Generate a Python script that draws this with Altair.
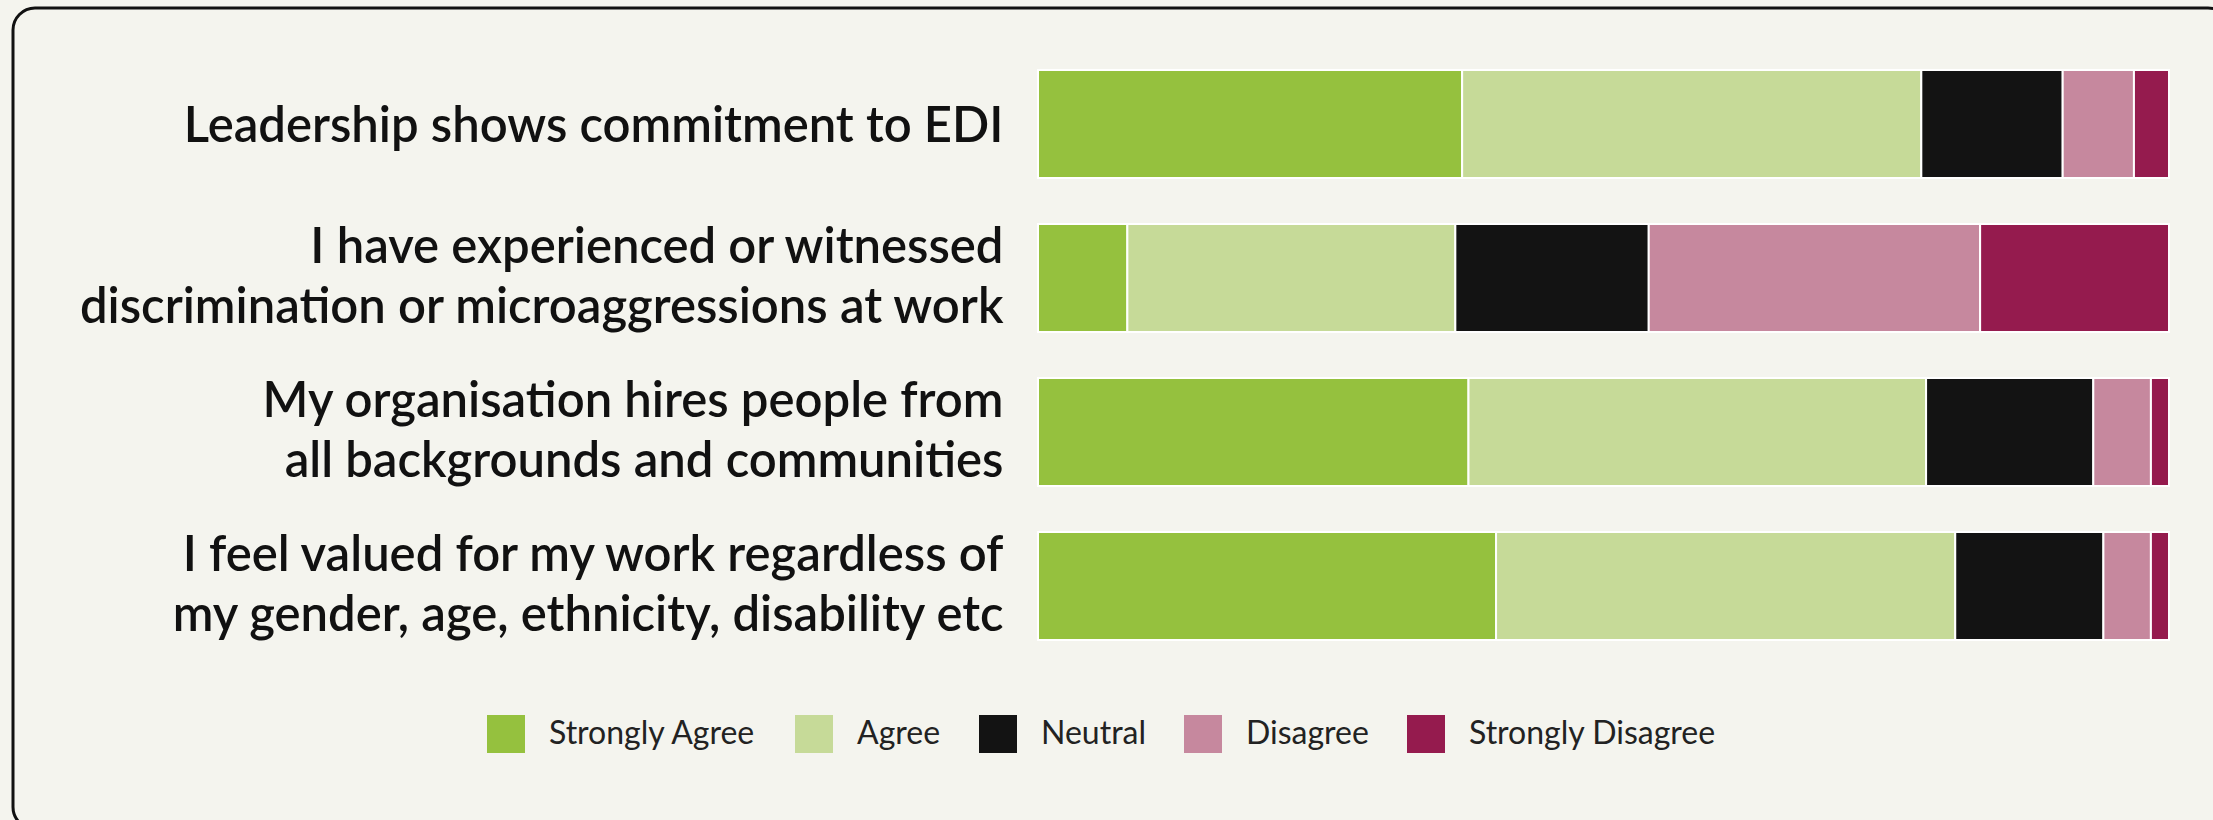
import altair as alt
import pandas as pd

questions = [
    "Leadership shows commitment to EDI",
    "I have experienced or witnessed |discrimination or microaggressions at work",
    "My organisation hires people from|all backgrounds and communities",
    "I feel valued for my work regardless of|my gender, age, ethnicity, disability etc",
]
responses = ["Strongly Agree", "Agree", "Neutral", "Disagree", "Strongly Disagree"]
colors = ["#95c13e", "#c6da98", "#131313", "#c6889e", "#951b4e"]

strongly_agree = [37.5, 7.9, 38.1, 40.5]
agree = [40.6, 29.0, 40.5, 40.6]
neutral = [12.5, 17.1, 14.8, 13.1]
disagree = [6.3, 29.3, 5.1, 4.2]
strongly_disagree = [3.1, 16.7, 1.6, 1.6]

series = [strongly_agree, agree, neutral, disagree, strongly_disagree]
rows = []
for ri, (resp, vals) in enumerate(zip(responses, series)):
    for q, v in zip(questions, vals):
        rows.append({"question": q, "response": resp, "value": v, "order": ri})
df = pd.DataFrame(rows)

bars = alt.Chart(df).mark_bar(stroke="#ffffff", strokeWidth=2).encode(
    y=alt.Y(
        "question:N",
        sort=questions,
        scale=alt.Scale(paddingInner=0.3, paddingOuter=0.15),
        axis=alt.Axis(
            title=None,
            domain=False,
            ticks=False,
            labelFont="Lato",
            labelFontSize=49,
            labelFontWeight=600,
            labelColor="#111111",
            labelPadding=35,
            labelLimit=1200,
            labelLineHeight=60,
            labelOffset={
                "condition": {"test": "indexof(datum.value, '|') >= 0", "value": -30},
                "value": 3,
            },
            labelExpr="split(datum.label, '|')",
        ),
    ),
    x=alt.X("value:Q", stack="normalize", axis=None),
    color=alt.Color(
        "response:N",
        scale=alt.Scale(domain=responses, range=colors),
        legend=alt.Legend(
            title=None,
            orient="none",
            legendX=-551,
            legendY=668,
            direction="horizontal",
            symbolType="square",
            symbolSize=1444,
            symbolStrokeWidth=0,
            symbolOpacity=1,
            labelFont="Lato",
            labelFontSize=32,
            labelColor="#222222",
            labelOffset=24,
            columnPadding=38,
            labelLimit=400,
        ),
    ),
    order=alt.Order("order:Q"),
)

frame = alt.Chart(pd.DataFrame({"a": [0]})).mark_rect(
    fill=None, stroke="#111111", strokeWidth=3, cornerRadius=22
).encode(
    x=alt.value(-1025),
    x2=alt.value(1192),
    y=alt.value(-39),
    y2=alt.value(782),
)

chart = (
    alt.layer(bars, frame)
    .properties(
        width=1131,
        height=616,
        background="#f4f4ee",
        autosize=alt.AutoSizeParams(type="none"),
        padding={"left": 1038, "top": 47, "right": 44, "bottom": 157},
    )
    .configure_view(stroke=None)
)

chart.save("out.html", embed_options={"renderer": "svg", "actions": False})
